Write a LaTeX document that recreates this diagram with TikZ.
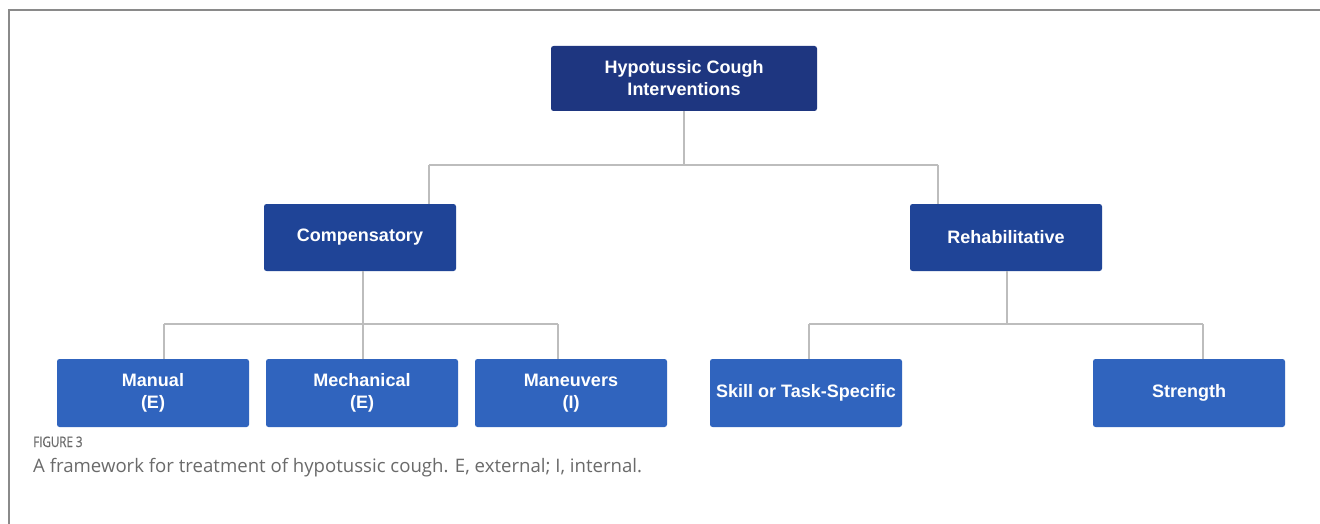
\documentclass[tikz,border=0pt]{standalone}
\usepackage{fontspec}
\setmainfont{Liberation Sans}
\newfontfamily\capfont{Open Sans}
\newfontfamily\figfont[FakeStretch=0.8,FakeBold=0.6]{Open Sans}
\begin{document}
\begin{tikzpicture}[x=1pt,y=-1pt,
  box/.style={rectangle, rounded corners=2.5pt, draw=none, minimum width=192pt, minimum height=67pt,
    text=white, font=\bfseries\fontsize{18}{22}\selectfont, align=center, inner sep=0pt},
  lvlA/.style={box, fill=topblue, minimum width=266pt, minimum height=65pt},
  lvlB/.style={box, fill=midblue},
  lvlC/.style={box, fill=lowblue, minimum height=68pt},
  conn/.style={draw=linegray, line width=2pt},
  frame/.style={draw=framegray, line width=1.5pt}]
\definecolor{topblue}{HTML}{1E3680}
\definecolor{midblue}{HTML}{1F4497}
\definecolor{lowblue}{HTML}{3064BE}
\definecolor{linegray}{HTML}{BDBDBD}
\definecolor{framegray}{HTML}{8A8A8A}
\definecolor{capgray}{HTML}{6A6A6A}
\useasboundingbox[fill=white] (0,0) rectangle (1320,524);
\coordinate (fTL) at (9,10);
\coordinate (fTR) at (1320,10);
\coordinate (fBL) at (9,524);
\draw[frame] (fBL) -- (fTL) -- (fTR);

\node[lvlA] (top) at (684,78.5) {Hypotussic Cough\\Interventions};
\node[lvlB] (comp) at (360,237.5) {Compensatory};
\node[lvlB] (reh) at (1006,237.5) {Rehabilitative};
\node[lvlC] (man) at (153,393) {Manual\\(E)};
\node[lvlC] (mech) at (362,393) {Mechanical\\(E)};
\node[lvlC] (manv) at (571,393) {Maneuvers\\(I)};
\node[lvlC] (skill) at (806,393) {Skill or Task-Specific};
\node[lvlC] (str) at (1189,393) {Strength};

\coordinate (aL) at (429,165);
\coordinate (aR) at (938,165);
\draw[conn] (top.south) -- (top.south |- aL);
\draw[conn] (aL) -- (aR);
\draw[conn] (aL) -- (aL |- comp.north);
\draw[conn] (aR) -- (aR |- reh.north);

\coordinate (bL) at (164,324);
\coordinate (bM) at (363,324);
\coordinate (bR) at (558,324);
\draw[conn] (bM |- comp.south) -- (bM);
\draw[conn] (bL) -- (bR);
\draw[conn] (bL) -- (bL |- man.north);
\draw[conn] (bM) -- (bM |- mech.north);
\draw[conn] (bR) -- (bR |- manv.north);

\coordinate (cL) at (809,324);
\coordinate (cM) at (1007,324);
\coordinate (cR) at (1203,324);
\draw[conn] (cM |- reh.south) -- (cM);
\draw[conn] (cL) -- (cR);
\draw[conn] (cL) -- (cL |- skill.north);
\draw[conn] (cR) -- (cR |- str.north);

\node[anchor=base west, inner sep=0pt, text=capgray, font=\figfont\fontsize{14.5}{16}\selectfont] (figlab) at (33,447) {FIGURE 3};
\node[anchor=base west, inner sep=0pt, text=capgray, font=\capfont\fontsize{18.6}{22}\selectfont] (cap) at (33,472) {A framework for treatment of hypotussic cough. E, external; I, internal.};
\end{tikzpicture}
\end{document}
